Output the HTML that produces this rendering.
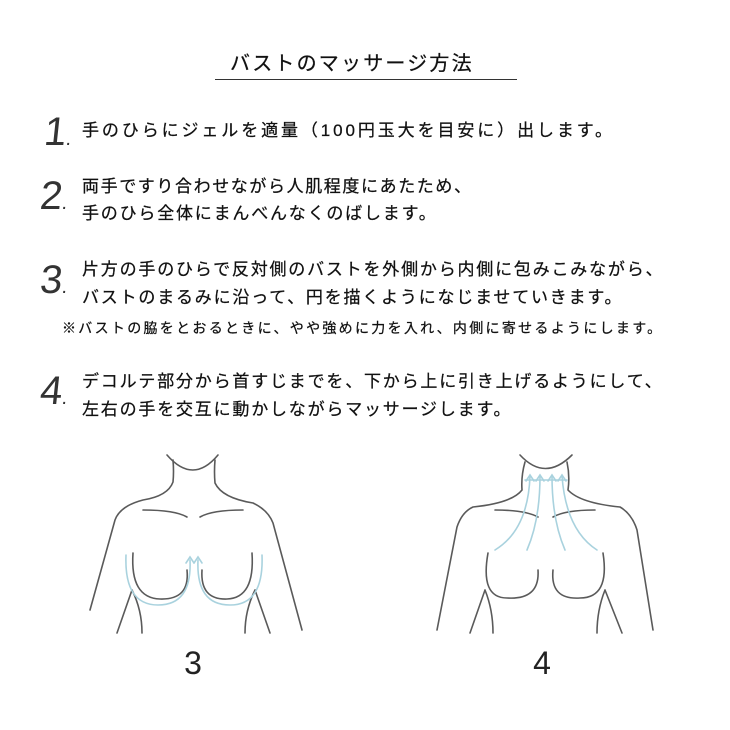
<!DOCTYPE html>
<html><head><meta charset="utf-8"><style>
body{margin:0;background:#fff;}
#c{position:relative;width:730px;height:730px;overflow:hidden;font-family:"Liberation Sans","Noto Sans CJK JP",sans-serif;color:#111;}
.t{position:absolute;white-space:nowrap;font-size:17px;letter-spacing:1.8px;line-height:20px;left:82px;-webkit-text-stroke:0.25px #111;}
.n{position:absolute;font-size:40px;line-height:40px;font-weight:normal;color:#333;transform:skewX(-6deg);font-family:"Liberation Sans",sans-serif;}
.n span{font-size:20px;}
</style></head><body><div id="c">
<div class="t" style="left:230px;top:52px;font-size:20px;letter-spacing:2.2px;line-height:24px;">バストのマッサージ方法</div>
<div style="position:absolute;left:215px;top:79px;width:302px;height:1px;background:#333"></div>

<div class="n" style="left:44px;top:112px;">1<span>.</span></div>
<div class="t" style="top:121px;letter-spacing:2.9px;">手のひらにジェルを適量（100円玉大を目安に）出します。</div>

<div class="n" style="left:40px;top:176px;">2<span>.</span></div>
<div class="t" style="top:177px;letter-spacing:1.6px;">両手ですり合わせながら人肌程度にあたため、</div>
<div class="t" style="top:204px;">手のひら全体にまんべんなくのばします。</div>

<div class="n" style="left:40px;top:260px;">3<span>.</span></div>
<div class="t" style="top:260px;">片方の手のひらで反対側のバストを外側から内側に包みこみながら、</div>
<div class="t" style="top:288px;">バストのまるみに沿って、円を描くようになじませていきます。</div>
<div class="t" style="top:318px;left:62px;font-size:14px;letter-spacing:2.3px;">※バストの脇をとおるときに、やや強めに力を入れ、内側に寄せるようにします。</div>

<div class="n" style="left:40px;top:371px;">4<span>.</span></div>
<div class="t" style="top:372px;">デコルテ部分から首すじまでを、下から上に引き上げるようにして、</div>
<div class="t" style="top:400px;">左右の手を交互に動かしながらマッサージします。</div>

<svg width="730" height="730" style="position:absolute;left:0;top:0" fill="none" stroke-linecap="round">
<g stroke="#5a5a5a" stroke-width="1.6">
<path d="M167 455 Q193 485 218 455"/>
<path d="M173 460 Q174 472 173 482 Q168 496 143 500 Q120 506 115 520 L90 610"/>
<path d="M215 460 Q214 472 215 483 Q222 498 253 503 Q268 510 273 523 L302 630"/>
<path d="M143 510 Q175 510 187 517"/>
<path d="M200 517 Q212 510 243 510"/>
<path d="M133 553 Q130 598 160 599 Q190 600 187 570"/>
<path d="M202 570 Q200 600 227 599 Q255 598 252 553"/>
<path d="M132 590 L117 633 M132 590 Q142 610 142 633"/>
<path d="M255 590 L270 633 M255 590 Q245 610 245 633"/>
<path d="M520 455 Q545 482 572 455"/>
<path d="M525 462 Q521 476 522 490 Q512 503 473 507 Q462 512 457 527 L437 630"/>
<path d="M567 462 Q570 476 568 490 Q580 503 620 507 Q632 514 637 530 L653 630"/>
<path d="M495 510 Q525 510 538 517"/>
<path d="M553 517 Q565 510 595 510"/>
<path d="M488 553 Q480 598 507 598 Q540 600 538 570"/>
<path d="M553 570 Q550 600 580 598 Q610 598 603 553"/>
<path d="M485 590 L470 633 M485 590 Q493 610 493 633"/>
<path d="M605 590 L622 633 M605 590 Q597 610 597 633"/>
</g>
<g stroke="#a9d2de" stroke-width="1.6">
<path d="M126 555 Q124 605 158 605 Q192 605 190 560"/>
<path d="M186 563 L190 557 L194 563"/>
<path d="M262 555 Q264 605 230 605 Q196 605 198 560"/>
<path d="M194 563 L198 557 L202 563"/>
<path d="M495 550 Q528 530 530 476"/>
<path d="M527 550 Q540 520 540 476"/>
<path d="M565 550 Q552 520 552 476"/>
<path d="M597 550 Q566 530 562 476"/>
<path d="M526 481 L530 475 L534 481 M536 481 L540 475 L544 481 M548 481 L552 475 L556 481 M558 481 L562 475 L566 481"/>
<path d="M525 480 L567 480"/>
</g>
<text x="193" y="674" font-size="32" text-anchor="middle" fill="#222" font-family="Liberation Sans">3</text>
<text x="542" y="674" font-size="32" text-anchor="middle" fill="#222" font-family="Liberation Sans">4</text>
</svg>
</div></body></html>
